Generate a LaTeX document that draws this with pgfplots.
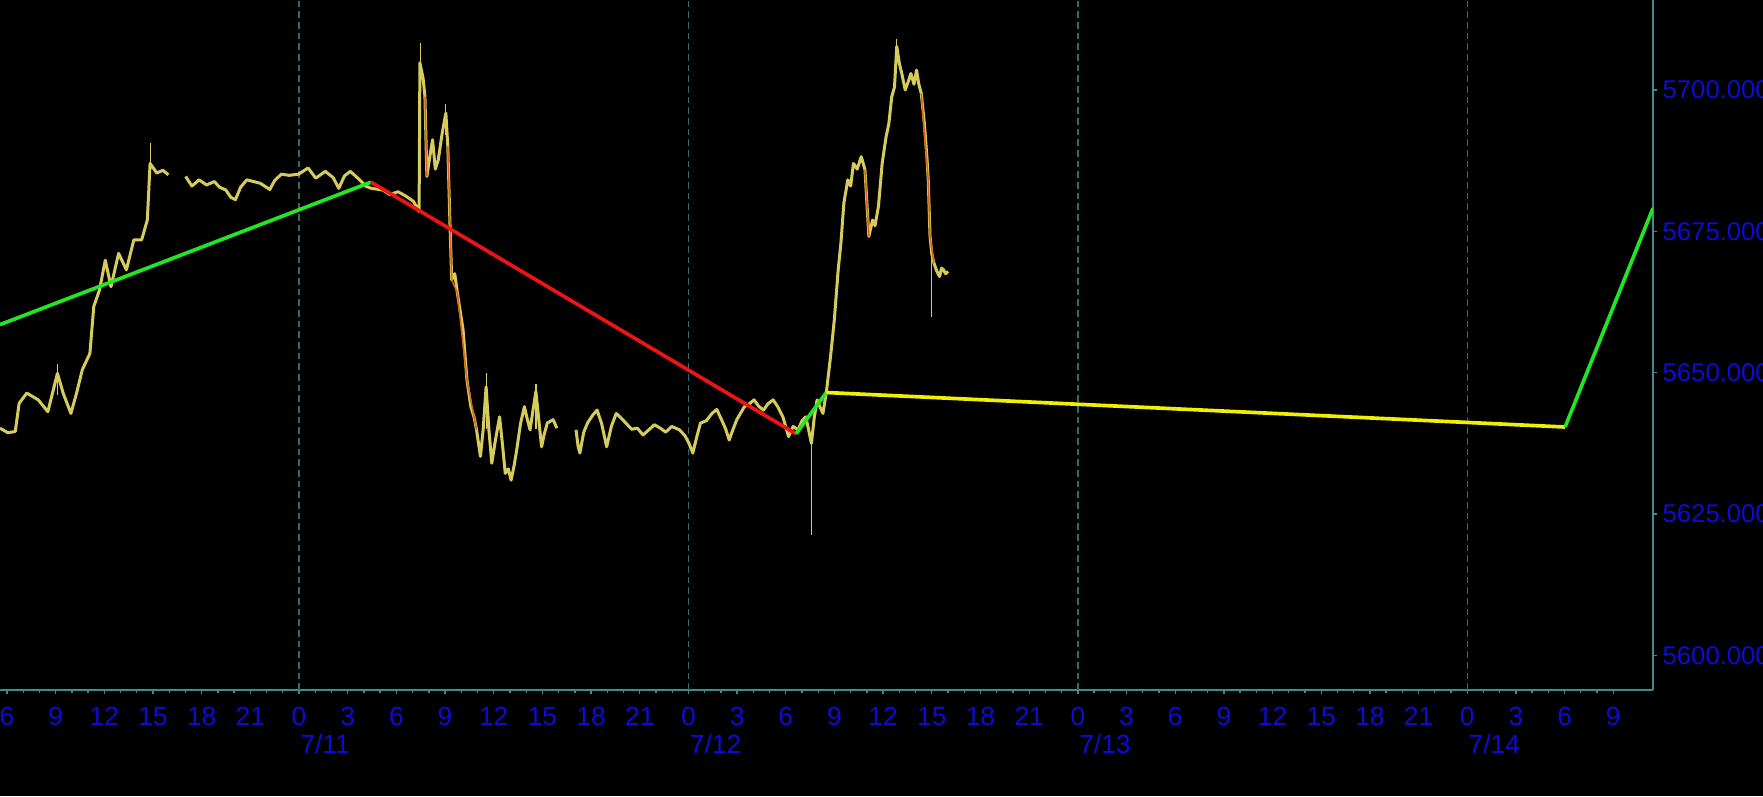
\documentclass[border=0pt]{standalone}
\usepackage{pgfplots}
\pgfplotsset{compat=1.18}
\usepackage{fontspec}
\setmainfont{Liberation Sans}

\definecolor{candle}{RGB}{214,204,92}
\definecolor{candledn}{RGB}{222,96,24}
\definecolor{trendgreen}{RGB}{34,230,34}
\definecolor{trendred}{RGB}{236,20,20}
\definecolor{trendyellow}{RGB}{240,240,0}
\definecolor{axisteal}{RGB}{62,140,140}
\definecolor{gridteal}{RGB}{40,112,112}
\definecolor{labelblue}{RGB}{12,12,215}

% price, hours since 7/10 0:00
\pgfplotstableread{
x y
5.57 5640.2
6.05 5639.4
6.51 5639.6
6.75 5644.6
7.22 5646.4
7.93 5645.2
8.52 5643.1
9.11 5649.9
9.46 5646.4
9.94 5642.8
10.29 5646.4
10.64 5650.5
11.11 5653.4
11.35 5661.7
11.70 5664.6
12.06 5669.9
12.41 5665.2
12.88 5671.1
13.36 5668.2
13.82 5673.5
14.30 5673.5
14.65 5677.0
14.82 5687.0
15.24 5685.3
15.60 5685.8
15.95 5685.0
nan nan
17.01 5684.7
17.40 5683.0
17.84 5684.1
18.30 5683.2
18.78 5683.8
19.10 5682.8
19.49 5682.3
19.80 5681.0
20.08 5680.6
20.40 5682.8
20.78 5684.1
21.20 5683.8
21.61 5683.5
22.20 5682.4
22.50 5684.0
22.91 5685.1
23.40 5684.9
23.97 5685.1
24.56 5686.2
25.03 5684.4
25.62 5685.6
26.10 5684.5
26.45 5682.6
26.80 5684.8
27.16 5685.6
27.74 5684.1
28.10 5683.0
28.45 5682.6
29.16 5682.3
29.60 5681.5
30.10 5682.0
30.60 5681.2
31.05 5680.3
31.40 5678.5
31.45 5704.8
31.65 5702.0
31.76 5698.8
31.88 5684.7
32.05 5688.0
32.23 5691.2
32.40 5686.0
32.58 5687.6
32.82 5692.3
33.05 5695.9
33.17 5690.0
33.29 5677.6
33.41 5666.4
33.60 5667.5
33.76 5664.1
34.11 5657.6
34.35 5648.7
34.59 5644.0
34.80 5642.0
34.94 5639.9
35.18 5635.2
35.35 5640.0
35.53 5647.5
35.70 5640.0
35.88 5634.0
36.10 5638.0
36.36 5642.2
36.55 5637.0
36.71 5632.2
36.90 5633.0
37.07 5631.0
37.25 5633.5
37.42 5636.4
37.65 5641.0
37.89 5644.0
38.05 5642.0
38.24 5639.9
38.40 5643.0
38.60 5646.7
38.80 5641.0
38.95 5636.9
39.10 5639.0
39.30 5641.1
39.66 5641.7
39.89 5640.2
nan nan
41.07 5639.9
41.20 5637.0
41.31 5635.8
41.55 5639.5
41.78 5641.1
42.10 5642.5
42.37 5643.4
42.65 5641.0
42.96 5636.9
43.25 5640.5
43.55 5642.8
43.85 5642.0
44.14 5641.1
44.50 5640.0
44.85 5640.2
45.20 5639.0
45.56 5639.9
45.90 5640.8
46.26 5640.2
46.60 5639.5
46.97 5640.5
47.45 5639.9
47.80 5638.8
48.03 5637.5
48.27 5635.8
48.50 5638.5
48.74 5641.1
49.10 5641.5
49.45 5642.8
49.75 5643.5
50.04 5641.7
50.30 5640.0
50.51 5638.1
50.75 5640.0
50.98 5641.7
51.45 5644.0
51.75 5644.5
52.04 5645.2
52.35 5644.0
52.63 5643.4
52.90 5644.5
53.22 5645.2
53.50 5644.0
53.82 5642.2
54.17 5638.7
54.45 5640.5
54.76 5639.9
55.00 5641.5
55.23 5642.2
55.40 5640.0
55.58 5637.5
55.75 5642.0
55.93 5645.2
56.10 5644.0
56.29 5642.8
56.52 5647.0
56.76 5652.9
56.99 5659.3
57.23 5668.2
57.40 5673.0
57.58 5680.0
57.82 5684.1
58.00 5683.0
58.17 5687.0
58.40 5686.0
58.65 5688.2
58.88 5685.9
59.00 5680.0
59.12 5674.1
59.35 5677.0
59.50 5676.0
59.71 5679.4
59.94 5687.0
60.18 5691.7
60.35 5694.0
60.53 5698.8
60.70 5700.5
60.84 5707.7
61.00 5704.7
61.18 5702.5
61.36 5700.0
61.55 5701.5
61.71 5702.9
61.90 5701.0
62.06 5703.5
62.20 5701.0
62.35 5699.4
62.54 5694.1
62.70 5688.0
62.78 5684.1
62.89 5674.1
63.00 5671.0
63.13 5669.4
63.30 5668.0
63.48 5667.0
63.60 5668.5
63.72 5668.2
63.85 5667.5
64.00 5667.9
}\price

% high/low wicks
\pgfplotstableread{
x y
9.11 5646.0
9.11 5651.5
nan nan
14.85 5684.0
14.85 5690.6
nan nan
31.47 5700.0
31.47 5708.3
nan nan
33.05 5692.0
33.05 5697.5
nan nan
35.53 5640.0
35.53 5650.0
nan nan
38.60 5640.0
38.60 5648.0
nan nan
55.58 5637.5
55.58 5621.3
nan nan
60.84 5704.0
60.84 5709.0
nan nan
63.00 5671.0
63.00 5659.8
}\wicks

% down candles
\pgfplotstableread{
x y
31.76 5698.8
31.88 5684.7
nan nan
33.17 5690.0
33.41 5666.4
33.76 5664.1
34.35 5648.7
34.94 5639.9
nan nan
58.88 5685.9
59.12 5674.1
nan nan
62.35 5699.4
62.78 5684.1
62.89 5674.1
63.13 5669.4
}\drops

\begin{document}
\begin{tikzpicture}
\fill[black] (0,-31.8pt) rectangle (528.9pt,207pt);
\begin{axis}[
  at={(0,0)}, anchor=south west,
  scale only axis, width=495.9pt, height=207pt,
  xmin=5.57, xmax=107.45, ymin=5593.9, ymax=5715.9,
  axis x line*=bottom, axis y line*=right,
  axis line style={axisteal, line width=0.45pt},
  tick style={axisteal, line width=0.4pt},
  tick align=outside, major tick length=1.2pt, minor tick length=1pt,
  xtick={6,9,...,105}, minor x tick num=2,
  xticklabel={\pgfmathparse{int(mod(round(\tick),24))}\pgfmathresult},
  xticklabel style={font=\fontsize{7.9}{8}\selectfont, text=labelblue, anchor=base, inner sep=0pt, yshift=-9.3pt},
  ytick={5600,5625,5650,5675,5700},
  yticklabels={5600.000,5625.000,5650.000,5675.000,5700.000},
  yticklabel style={font=\fontsize{7.7}{8}\selectfont, text=labelblue, anchor=west, inner sep=0pt, xshift=1.5pt},
  extra x ticks={24,48,72,96}, extra x tick labels={},
  extra x tick style={grid=major, major grid style={gridteal, line width=0.4pt, dash pattern=on 2pt off 1.2pt}},
  unbounded coords=jump,
  clip mode=individual,
]
\addplot[candle, line width=0.9pt, line join=round] table {\price};
\addplot[candle, line width=0.35pt] table {\wicks};
\addplot[candledn, line width=0.45pt] table {\drops};
\addplot[trendgreen, line width=1.1pt] coordinates {(5.57,5658.5) (28.44,5683.7)};
\addplot[trendred, line width=1.1pt] coordinates {(28.44,5683.7) (54.63,5639.2)};
\addplot[trendgreen, line width=1.1pt] coordinates {(54.63,5639.2) (56.50,5646.5)};
\addplot[trendyellow, line width=1.1pt] coordinates {(56.50,5646.5) (102.03,5640.4)};
\addplot[trendgreen, line width=1.1pt] coordinates {(102.03,5640.4) (107.45,5679.1)};
\node[anchor=base west, inner sep=0pt, yshift=-19pt, text=labelblue, font=\fontsize{7.9}{8}\selectfont] at (axis cs:24.05,5593.9) {7/11};
\node[anchor=base west, inner sep=0pt, yshift=-19pt, text=labelblue, font=\fontsize{7.9}{8}\selectfont] at (axis cs:48.05,5593.9) {7/12};
\node[anchor=base west, inner sep=0pt, yshift=-19pt, text=labelblue, font=\fontsize{7.9}{8}\selectfont] at (axis cs:72.05,5593.9) {7/13};
\node[anchor=base west, inner sep=0pt, yshift=-19pt, text=labelblue, font=\fontsize{7.9}{8}\selectfont] at (axis cs:96.05,5593.9) {7/14};
\end{axis}
\pgfresetboundingbox
\useasboundingbox (0,-31.8pt) rectangle (528.9pt,207pt);
\end{tikzpicture}
\end{document}
